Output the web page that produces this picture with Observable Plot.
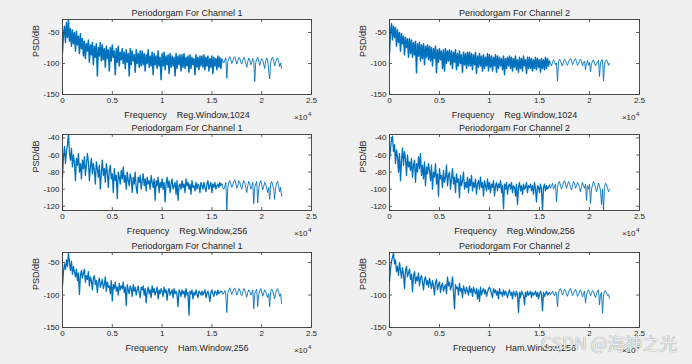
<!DOCTYPE html>
<html><head><meta charset="utf-8">
<script src="https://cdn.jsdelivr.net/npm/d3@7"></script>
<script src="https://cdn.jsdelivr.net/npm/@observablehq/plot@0.6"></script>
<style>
html,body{margin:0;padding:0;background:#f0f0f0;}
#fig{position:relative;width:692px;height:364px;overflow:hidden;background:#f0f0f0;font-family:"Liberation Sans",Arial,Helvetica,sans-serif;}
#fig svg{position:absolute;overflow:visible;}
.wm{position:absolute;left:541px;top:333px;font-family:"Noto Sans CJK SC","Noto Sans",sans-serif;font-size:17.5px;line-height:20px;color:rgba(255,255,255,0.85);text-shadow:0 0 1px rgba(60,60,60,0.75);white-space:nowrap;}
</style></head><body><div id="fig"></div><script>
// ---- data ----
const xTicks = [0, 5000, 10000, 15000, 20000, 25000];
const yTicksWide = [-150, -100, -50];
const yTicksNarrow = [-120, -100, -80, -60, -40];
const binStep = 100;    // Hz between plotted bins
const denseEnd = 16000; // Hz where the dense part of each spectrum ends

const ch1Reg1024 = [
-82,-52,-40,-66,-34,-58,-30,-64,-44,-72,-46,-68,-50,-80,-48,-70,-56,-84,-52,-76,
-60,-88,-64,-92,-68,-80,-62,-98,-70,-86,-66,-102,-72,-90,-68,-120,-74,-88,-66,-96,
-70,-94,-76,-106,-72,-92,-78,-112,-74,-96,-70,-90,-80,-118,-76,-98,-72,-104,-82,-94,
-76,-100,-82,-108,-78,-98,-84,-120,-76,-102,-80,-96,-86,-114,-78,-100,-84,-106,-80,-104,
-80,-102,-84,-112,-86,-100,-78,-106,-88,-104,-82,-118,-84,-102,-88,-108,-80,-104,-90,-126,
-84,-104,-82,-110,-88,-102,-86,-116,-84,-106,-88,-104,-90,-120,-84,-108,-88,-102,-86,-112,
-86,-106,-84,-108,-90,-104,-88,-114,-86,-108,-90,-102,-92,-118,-86,-106,-90,-110,-88,-104,
-88,-106,-86,-110,-90,-104,-88,-112,-92,-106,-88,-116,-90,-104,-92,-110,-88,-106,-90,-108,
-93,-96,-99,-94,-91,-124,-97,-92,-89,-94,-100,-96,-91,-89,-95,-101,-96,-90,-92,-98,
-101,-95,-90,-93,-100,-106,-97,-91,-94,-102,-98,-92,-95,-129,-99,-93,-90,-96,-103,-97,
-92,-95,-101,-108,-97,-91,-94,-112,-125,-98,-92,-90,-96,-104,-98,-93,-91,-97,-105,-99,
-108];

const ch2Reg1024 = [
-84,-48,-36,-62,-40,-58,-42,-72,-46,-66,-50,-80,-52,-68,-56,-86,-58,-74,-60,-90,
-60,-84,-62,-90,-66,-86,-64,-115,-68,-88,-66,-96,-70,-92,-68,-102,-72,-90,-70,-94,
-72,-96,-74,-104,-76,-92,-72,-115,-78,-98,-76,-94,-80,-108,-78,-112,-76,-100,-80,-96,
-78,-102,-80,-108,-82,-98,-78,-110,-84,-104,-80,-100,-86,-114,-82,-102,-84,-108,-82,-104,
-82,-104,-84,-110,-86,-102,-82,-116,-88,-106,-84,-104,-88,-112,-86,-108,-90,-104,-84,-112,
-86,-106,-88,-112,-90,-104,-86,-114,-88,-108,-90,-104,-92,-110,-88,-118,-92,-108,-90,-104,
-88,-108,-90,-112,-92,-106,-88,-110,-94,-114,-90,-108,-92,-112,-88,-104,-94,-116,-90,-108,
-90,-108,-92,-112,-94,-108,-90,-110,-92,-106,-94,-114,-92,-108,-94,-110,-90,-108,-92,-104,
-96,-100,-104,-98,-94,-97,-102,-99,-128,-97,-93,-95,-101,-104,-97,-93,-95,-100,-103,-98,
-94,-92,-96,-102,-99,-94,-92,-97,-103,-100,-95,-93,-97,-104,-99,-96,-110,-100,-95,-103,
-98,-113,-101,-96,-94,-99,-104,-100,-97,-95,-121,-99,-95,-94,-128,-101,-96,-94,-97,-103,
-100];

const ch1Reg256 = [
-85,-62,-50,-70,-55,-48,-35,-58,-66,-52,-74,-60,-68,-90,-64,-72,-58,-80,-70,-88,
-66,-76,-62,-84,-72,-58,-68,-90,-74,-64,-82,-70,-78,-94,-68,-76,-86,-72,-100,-80,
-66,-84,-76,-92,-70,-80,-98,-78,-72,-88,-82,-104,-76,-90,-84,-111,-80,-86,-94,-78,
-88,-74,-92,-84,-100,-80,-90,-96,-82,-88,-104,-86,-94,-80,-98,-105,-86,-92,-84,-100,
-90,-82,-96,-88,-102,-86,-94,-90,-100,-84,-92,-98,-88,-113,-90,-96,-86,-104,-92,-98,
-88,-100,-92,-115,-94,-86,-98,-90,-104,-94,-88,-100,-96,-92,-106,-90,-113,-96,-94,-100,
-90,-98,-94,-104,-88,-96,-92,-100,-94,-106,-90,-98,-96,-102,-92,-100,-94,-96,-104,-92,
-96,-100,-92,-98,-103,-94,-90,-100,-96,-92,-104,-94,-98,-92,-100,-96,-94,-98,-92,-96,
-94,-98,-100,-96,-92,-125,-98,-92,-90,-94,-98,-95,-91,-89,-93,-99,-96,-90,-92,-97,
-100,-94,-90,-92,-98,-104,-96,-91,-93,-100,-97,-92,-117,-98,-94,-91,-116,-99,-93,-90,
-95,-101,-97,-92,-94,-99,-104,-98,-112,-94,-91,-95,-100,-112,-98,-93,-91,-96,-103,-98,
-108];

const ch2Reg256 = [
-66,-52,-42,-38,-56,-48,-70,-54,-62,-80,-58,-90,-66,-52,-72,-56,-64,-84,-60,-74,
-68,-78,-64,-86,-72,-66,-92,-70,-80,-62,-76,-58,-84,-72,-88,-68,-96,-74,-82,-70,
-78,-90,-72,-100,-80,-86,-70,-94,-82,-108,-76,-88,-84,-98,-78,-92,-86,-72,-96,-84,
-80,-100,-88,-76,-94,-86,-104,-82,-92,-88,-110,-84,-96,-90,-80,-100,-92,-98,-86,-104,
-88,-96,-84,-102,-92,-98,-88,-106,-94,-90,-100,-86,-98,-92,-108,-90,-96,-102,-88,-100,
-92,-104,-94,-98,-90,-108,-96,-92,-102,-94,-98,-90,-104,-96,-123,-94,-100,-92,-106,-96,
-94,-100,-92,-104,-96,-98,-108,-94,-118,-98,-92,-102,-96,-106,-94,-100,-98,-92,-104,-96,
-98,-94,-102,-96,-106,-92,-100,-115,-96,-98,-104,-94,-100,-125,-98,-94,-102,-96,-100,-98,
-95,-99,-96,-93,-100,-97,-94,-115,-98,-93,-91,-96,-100,-97,-92,-90,-94,-99,-95,-91,
-93,-98,-101,-96,-91,-93,-99,-96,-92,-94,-98,-103,-97,-92,-96,-99,-94,-113,-96,-100,
-94,-117,-100,-95,-91,-94,-98,-103,-99,-93,-96,-102,-118,-100,-125,-97,-93,-95,-99,-103,
-100];

const ch1Ham256 = [
-85,-64,-52,-60,-46,-56,-35,-50,-62,-48,-68,-56,-64,-72,-60,-78,-66,-99,-70,-62,
-74,-66,-60,-80,-70,-76,-64,-86,-72,-78,-92,-74,-70,-84,-78,-96,-80,-74,-88,-82,
-76,-90,-84,-72,-94,-80,-88,-86,-98,-78,-109,-84,-90,-80,-94,-88,-100,-82,-92,-86,
-90,-80,-96,-88,-116,-84,-92,-98,-86,-90,-102,-84,-94,-88,-100,-92,-86,-96,-104,-88,
-92,-86,-100,-90,-112,-94,-88,-98,-92,-104,-86,-96,-90,-100,-94,-88,-106,-92,-98,-90,
-94,-102,-88,-96,-92,-108,-94,-90,-100,-96,-92,-104,-90,-98,-94,-100,-118,-92,-96,-102,
-92,-98,-94,-104,-90,-100,-96,-131,-94,-98,-92,-106,-96,-100,-92,-98,-104,-94,-96,-100,
-94,-100,-96,-92,-104,-98,-94,-100,-110,-96,-92,-98,-102,-94,-96,-100,-92,-98,-96,-94,
-95,-99,-97,-93,-100,-127,-97,-92,-89,-94,-99,-95,-91,-89,-94,-100,-96,-90,-92,-98,
-101,-95,-90,-92,-98,-103,-96,-92,-94,-100,-97,-92,-121,-98,-94,-91,-118,-99,-94,-90,
-95,-102,-97,-92,-94,-100,-104,-98,-118,-95,-91,-94,-100,-106,-97,-92,-90,-96,-102,-98,
-113];

const ch2Ham256 = [
-80,-60,-48,-42,-35,-52,-46,-64,-56,-70,-50,-62,-74,-58,-68,-90,-62,-56,-72,-66,
-60,-76,-68,-95,-70,-64,-82,-72,-78,-66,-86,-74,-70,-80,-92,-76,-72,-84,-78,-88,
-74,-82,-90,-78,-86,-100,-80,-76,-92,-84,-80,-96,-86,-82,-94,-88,-84,-98,-72,-86,
-80,-92,-86,-72,-96,-121,-84,-90,-88,-100,-82,-94,-90,-104,-86,-92,-98,-88,-94,-100,
-86,-96,-90,-102,-88,-94,-98,-90,-106,-92,-110,-88,-100,-94,-90,-98,-92,-102,-96,-90,
-88,-92,-98,-104,-90,-96,-92,-100,-94,-106,-90,-98,-96,-102,-92,-100,-94,-98,-104,-96,
-92,-100,-96,-106,-94,-98,-102,-94,-100,-127,-96,-104,-94,-98,-100,-115,-96,-102,-94,-100,
-98,-94,-104,-96,-100,-98,-94,-102,-96,-106,-98,-94,-100,-124,-96,-102,-98,-94,-100,-98,
-96,-100,-97,-94,-99,-101,-95,-98,-118,-96,-92,-90,-95,-100,-96,-91,-93,-98,-102,-96,
-92,-90,-95,-101,-98,-93,-91,-96,-102,-99,-94,-92,-97,-103,-98,-94,-112,-100,-95,-92,
-96,-101,-97,-93,-95,-100,-104,-98,-94,-92,-115,-99,-96,-128,-100,-95,-93,-97,-101,-99,
-105];

const titles = ["Periodorgam For Channel 1", "Periodorgam For Channel 2"];
const xLabels = ["Frequency    Reg.Window,1024", "Frequency    Reg.Window,256", "Frequency    Ham.Window,256"];
const yLabel = "PSD/dB";

// ---- layout ----
const rows = [
  {top: 0,   height: 120, mt: 19, mb: 26, yDomain: [-150, -29],  yTicks: yTicksWide,   label: xLabels[0], series: [ch1Reg1024, ch2Reg1024], denseWidth: 1.5},
  {top: 120, height: 120, mt: 14, mb: 30, yDomain: [-125, -36],  yTicks: yTicksNarrow, label: xLabels[1], series: [ch1Reg256, ch2Reg256], denseWidth: 1.3},
  {top: 240, height: 124, mt: 12, mb: 37, yDomain: [-150, -34.5], yTicks: yTicksWide,  label: xLabels[2], series: [ch1Ham256, ch2Ham256], denseWidth: 1.3}
];
const cols = [{left: 0, ml: 62, mr: 35}, {left: 346, ml: 43, mr: 53}];

const fig = document.getElementById("fig");
const ink = "#262626";
const axisStroke = "#3a3a3a";
const lineColor = "#0072BD";

rows.forEach(r => {
  cols.forEach((c, ci) => {
    const values = r.series[ci];
    const data = values.map((v, i) => ({f: i * binStep, v, i}));
    const k = Math.round(denseEnd / binStep);
    const dense = data.filter(d => d.i <= k);
    const tail = data.filter(d => d.i >= k);
    const W = 346;
    const fh = r.height - r.mt - r.mb;
    const fw = W - c.ml - c.mr;
    const svg = Plot.plot({
      width: W, height: r.height,
      marginLeft: c.ml, marginRight: c.mr, marginTop: r.mt, marginBottom: r.mb,
      style: {background: "transparent", fontFamily: '"Liberation Sans", Arial, Helvetica, sans-serif', fontSize: "8px", color: ink, overflow: "visible"},
      x: {domain: [0, 25000]},
      y: {domain: r.yDomain},
      marks: [
        Plot.frame({fill: "white", stroke: null}),
        Plot.line(tail, {x: "f", y: "v", stroke: lineColor, strokeWidth: 0.9, clip: true}),
        Plot.line(dense, {x: "f", y: "v", stroke: lineColor, strokeWidth: r.denseWidth, clip: true}),
        Plot.frame({stroke: axisStroke, strokeWidth: 0.9}),
        Plot.tickX(xTicks, {x: d => d, insetTop: fh - 3, stroke: axisStroke, strokeWidth: 0.8}),
        Plot.tickX(xTicks, {x: d => d, insetBottom: fh - 3, stroke: axisStroke, strokeWidth: 0.8}),
        Plot.tickY(r.yTicks, {y: d => d, insetRight: fw - 3, stroke: axisStroke, strokeWidth: 0.8}),
        Plot.tickY(r.yTicks, {y: d => d, insetLeft: fw - 3, stroke: axisStroke, strokeWidth: 0.8}),
        Plot.axisX({ticks: xTicks, tickSize: 0, tickPadding: 3, tickFormat: d => String(d / 1e4), label: null, fill: ink}),
        Plot.axisY({ticks: r.yTicks, tickSize: 0, tickPadding: 3, tickFormat: d => String(d), label: null, fill: ink}),
        Plot.text([titles[ci]], {frameAnchor: "top", lineAnchor: "middle", dy: -6, fontSize: 9, fill: ink}),
        Plot.text([r.label], {frameAnchor: "bottom", lineAnchor: "middle", dy: 21, fontSize: 9, fill: ink}),
        Plot.text([yLabel], {frameAnchor: "left", lineAnchor: "middle", dx: -26.5, rotate: -90, fontSize: 9, fill: ink}),
        Plot.text(["\u00d710"], {frameAnchor: "bottom-right", lineAnchor: "middle", dx: -4, dy: 23, textAnchor: "end", fontSize: 8, fill: ink}),
        Plot.text(["4"], {frameAnchor: "bottom-right", lineAnchor: "middle", dx: -3.5, dy: 20, textAnchor: "start", fontSize: 6, fill: ink})
      ]
    });
    svg.style.left = c.left + "px";
    svg.style.top = r.top + "px";
    fig.appendChild(svg);
  });
});

const wm = document.createElement("div");
wm.className = "wm";
wm.textContent = "CSDN @海神之光";
fig.appendChild(wm);
</script></body></html>
